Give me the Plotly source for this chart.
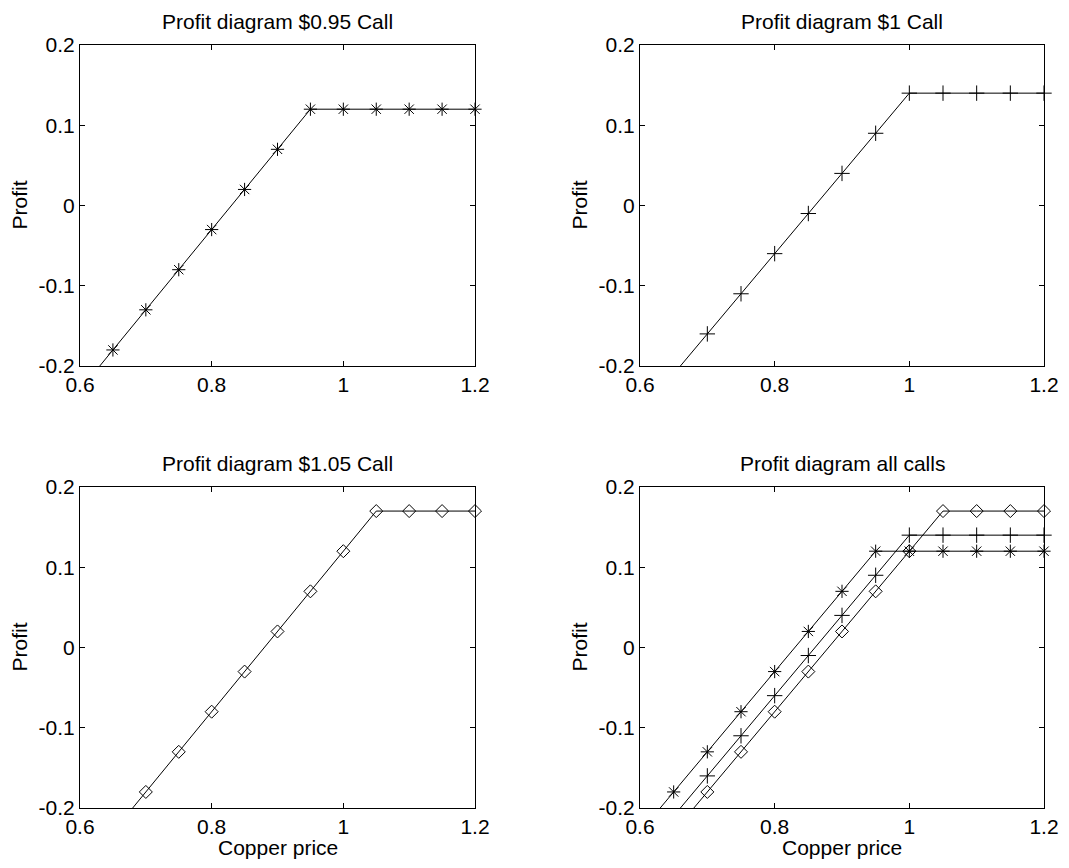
import plotly.graph_objects as go

price = [0.6, 0.65, 0.7, 0.75, 0.8, 0.85, 0.9, 0.95, 1.0, 1.05, 1.1, 1.15, 1.2]
profit_095 = [-0.23, -0.18, -0.13, -0.08, -0.03, 0.02, 0.07, 0.12, 0.12, 0.12, 0.12, 0.12, 0.12]
profit_100 = [-0.26, -0.21, -0.16, -0.11, -0.06, -0.01, 0.04, 0.09, 0.14, 0.14, 0.14, 0.14, 0.14]
profit_105 = [-0.28, -0.23, -0.18, -0.13, -0.08, -0.03, 0.02, 0.07, 0.12, 0.17, 0.17, 0.17, 0.17]

titles = ["Profit diagram $0.95 Call", "Profit diagram $1 Call",
          "Profit diagram $1.05 Call", "Profit diagram all calls"]
x_label = "Copper price"
y_label = "Profit"
x_ticks = [0.6, 0.8, 1.0, 1.2]
x_ticktext = ["0.6", "0.8", "1", "1.2"]
y_ticks = [-0.2, -0.1, 0.0, 0.1, 0.2]
y_ticktext = ["-0.2", "-0.1", "0", "0.1", "0.2"]
x_range = [0.6, 1.2]
y_range = [-0.2, 0.2]

series = {
    "095": (profit_095, "asterisk-open", 11),
    "100": (profit_100, "cross-thin-open", 11),
    "105": (profit_105, "diamond-open", 10),
}
panels = [
    (1, ["095"]),
    (2, ["100"]),
    (3, ["105"]),
    (4, ["095", "100", "105"]),
]

# page body has an 8px margin; figure coordinates are screen minus 8
OFF = 8
W, H = 1069 - 2 * OFF, 868 - 2 * OFF
def px_x(s):
    return (s - OFF) / W
def px_y(s):
    return 1 - (s - OFF) / H

xdom = [[px_x(80), px_x(475)], [px_x(640), px_x(1044)]]
ydom = [[px_y(366), px_y(45)], [px_y(808), px_y(487)]]

fig = go.Figure()
font = "Arial, Liberation Sans, Helvetica, sans-serif"
FS = 21

for idx, keys in panels:
    xa = "x" if idx == 1 else f"x{idx}"
    ya = "y" if idx == 1 else f"y{idx}"
    for k in keys:
        ys, sym, sz = series[k]
        fig.add_trace(go.Scatter(x=price, y=ys, mode="lines", xaxis=xa, yaxis=ya,
                                 line=dict(color="black", width=1), showlegend=False,
                                 hoverinfo="skip"))
        mx = [p for p, v in zip(price, ys) if y_range[0] <= v <= y_range[1]]
        my = [v for p, v in zip(price, ys) if y_range[0] <= v <= y_range[1]]
        fig.add_trace(go.Scatter(x=mx, y=my, mode="markers", xaxis=xa, yaxis=ya,
                                 cliponaxis=False, showlegend=False,
                                 marker=dict(symbol=sym, size=sz, color="black",
                                             line=dict(color="black", width=1))))

axis_common = dict(showline=True, linecolor="black", linewidth=1, mirror="ticks",
                   ticks="inside", ticklen=5, tickcolor="black", showgrid=False,
                   zeroline=False, tickfont=dict(family=font, size=FS, color="black"),
                   fixedrange=True, automargin=False)

layout = {}
for i, (idx, _) in enumerate(panels):
    col = i % 2
    row = i // 2
    xname = "xaxis" if idx == 1 else f"xaxis{idx}"
    yname = "yaxis" if idx == 1 else f"yaxis{idx}"
    ya = "y" if idx == 1 else f"y{idx}"
    xa = "x" if idx == 1 else f"x{idx}"
    layout[xname] = dict(axis_common, domain=xdom[col], range=x_range, anchor=ya,
                         tickvals=x_ticks, ticktext=x_ticktext)
    layout[yname] = dict(axis_common, domain=ydom[row], range=y_range, anchor=xa,
                         tickvals=y_ticks, ticktext=y_ticktext)

annotations = []
for i, t in enumerate(titles):
    col = i % 2
    row = i // 2
    xc = (xdom[col][0] + xdom[col][1]) / 2
    yc = (ydom[row][0] + ydom[row][1]) / 2
    annotations.append(dict(text=t, xref="paper", yref="paper", x=xc, y=ydom[row][1],
                            yshift=10, xanchor="center", yanchor="bottom", showarrow=False,
                            font=dict(family=font, size=FS, color="black")))
    ylab_x = px_x(19) if col == 0 else px_x(579)
    annotations.append(dict(text=y_label, xref="paper", yref="paper", x=ylab_x, y=yc,
                            xanchor="center", yanchor="middle", textangle=-90,
                            showarrow=False, font=dict(family=font, size=FS, color="black")))
    if row == 1:
        annotations.append(dict(text=x_label, xref="paper", yref="paper", x=xc, y=0,
                                xanchor="center", yanchor="bottom", showarrow=False,
                                borderpad=0,
                                font=dict(family=font, size=FS, color="black")))

fig.update_layout(width=W, height=H, margin=dict(l=0, r=0, t=0, b=0),
                  plot_bgcolor="white", paper_bgcolor="white",
                  annotations=annotations, **layout)

fig.write_html("out.html")
